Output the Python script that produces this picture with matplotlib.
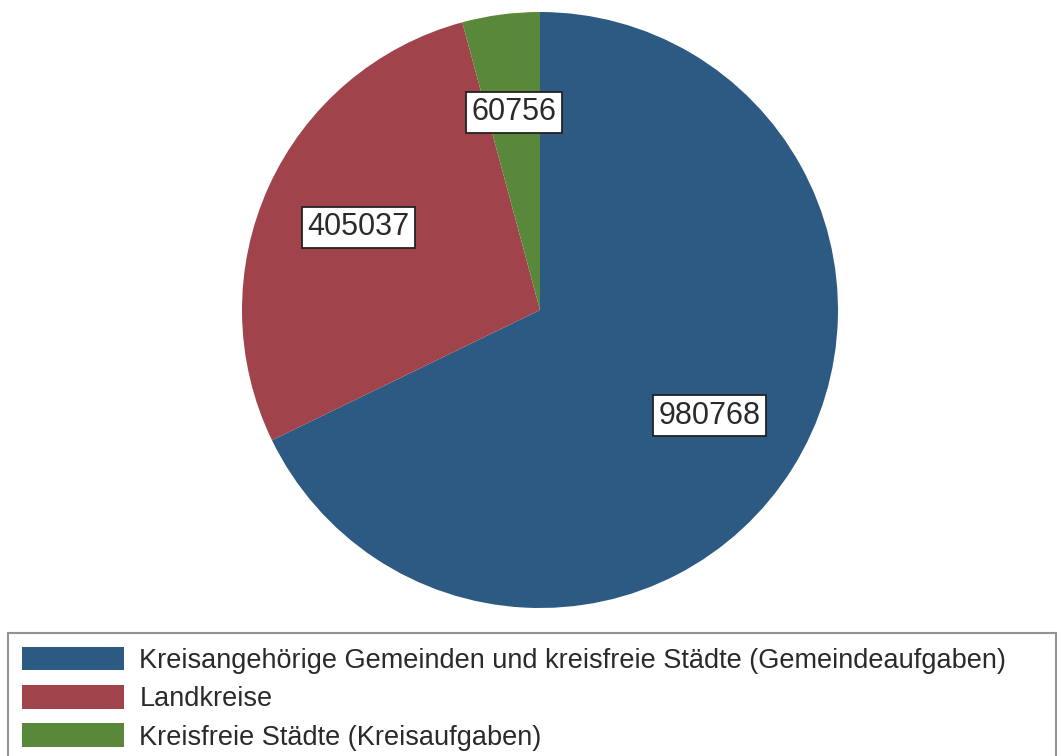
import matplotlib.pyplot as plt
from matplotlib.patches import Patch

plt.rcParams["font.family"] = ["Liberation Sans", "DejaVu Sans"]

labels = ["Kreisangehörige Gemeinden und kreisfreie Städte (Gemeindeaufgaben)",
          "Landkreise",
          "Kreisfreie Städte (Kreisaufgaben)"]
values = [980768, 405037, 60756]
colors = ["#2d5a83", "#a0434b", "#5a883a"]

total = sum(values)

fig = plt.figure(figsize=(10.61, 7.56), dpi=100)
ax = fig.add_axes([242 / 1061, 148 / 756, 596 / 1061, 596 / 756])

wedges, texts, autotexts = ax.pie(
    values, colors=colors, startangle=90, counterclock=False,
    autopct=lambda p: f"{round(p * total / 100):d}", pctdistance=0.67,
    wedgeprops=dict(linewidth=0), radius=1.0)
for t in autotexts:
    t.set_fontsize(22)
    t.set_color("#2a2a2a")
    t.set_bbox(dict(boxstyle="square,pad=0.18", facecolor="white",
                    edgecolor="#222222", linewidth=1.3))
ax.set_xlim(-1, 1)
ax.set_ylim(-1, 1)
ax.set_aspect("equal")
ax.axis("off")

handles = [Patch(facecolor=c, edgecolor="none") for c in colors]
leg = fig.legend(handles, labels, loc="upper left",
                 bbox_to_anchor=(8 / 1061, 1 - 633 / 756, 1048 / 1061, 0),
                 mode="expand", fontsize=19.5, frameon=True, fancybox=False,
                 handlelength=3.8, handleheight=0.96, handletextpad=0.55,
                 labelspacing=0.42, borderpad=0.5, borderaxespad=0)
leg.get_frame().set_edgecolor("#777777")
leg.get_frame().set_linewidth(1.5)
for t in leg.get_texts():
    t.set_color("#2a2a2a")

fig.savefig("out.png", dpi=100, facecolor="white")
